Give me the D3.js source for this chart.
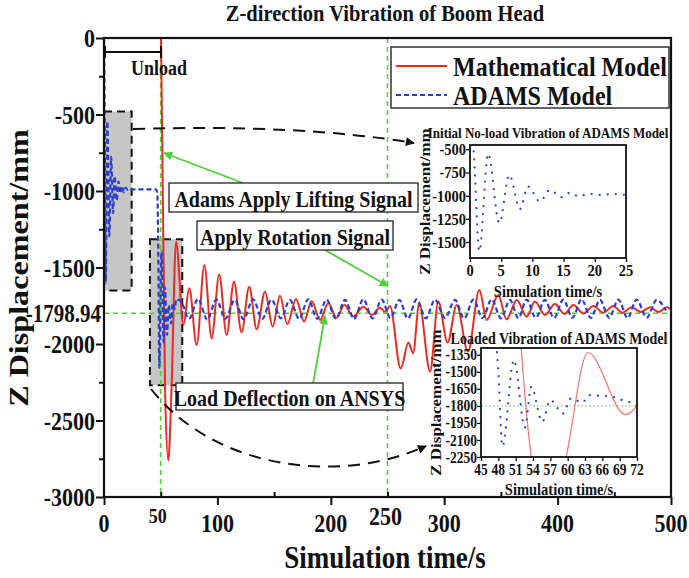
<!DOCTYPE html>
<html><head><meta charset="utf-8">
<script src="https://cdn.jsdelivr.net/npm/d3@7/dist/d3.min.js"></script>
<style>
body{margin:0;background:#fff}
text{font-family:"Liberation Serif","Times New Roman",serif;font-weight:bold;fill:#111}
</style></head>
<body><svg id="c" width="689" height="578"></svg>
<script>
// ---------------- data ----------------
const xTicks = [0, 100, 200, 300, 400, 500];
const xMarks = [50, 250];
const yTicks = [0, -500, -1000, -1500, -2000, -2500, -3000];
const refValue = -1798.94;

const adamsT = [0,0.6,1.5,2.9,4.7,6.3,8.0,9.3,11.2,12.8,14.7,16,17.5,19,21,23,24.5,30,40,45.5,47,48,48.7,50.7,52.6,53.7,55.6,57,59.2,60.6,62.6,63.6,65.8,67.5,68.8,70.4,71.8,
 75,83,91,99.1,107,115.3,123,131.5,139.5,147.7,156,163.9,172,180.1,188,196.3,204.5,212.5,220.5,228.7,236.8,244.9,252.6,260.4,268,275.7,283.8,291.9,300.7,309.5,317.6,325.7,333.8,341.9,350,358,365.4,372.7,380.8,388.8,396.9,405,413.1,421.2,429.3,437.4,445.5,453.6,461.7,469.7,478.6,487.4,495.5,500];
const adamsV = [0,-530,-1600,-545,-1296,-776,-1145,-902,-1063,-938,-1016,-968,-1008,-978,-992,-983,-990,-990,-990,-990,-1010,-1500,-2155,-1394,-1990,-1630,-1940,-1748,-1866,-1733,-1770,-1705,-1712,-1716,-1740,-1760,-1796,
 -1835,-1705,-1840,-1710,-1835,-1712,-1838,-1708,-1835,-1710,-1832,-1712,-1836,-1708,-1835,-1710,-1834,-1712,-1836,-1708,-1832,-1710,-1830,-1712,-1834,-1708,-1832,-1710,-1830,-1712,-1833,-1710,-1830,-1708,-1832,-1712,-1830,-1710,-1828,-1712,-1830,-1710,-1828,-1708,-1830,-1712,-1828,-1710,-1830,-1710,-1828,-1712,-1780];

const mathT = [50.3,53.8,56.7,59.6,63.5,70,75.2,81.7,88.5,94.9,101.6,108.1,114.6,121.3,128.1,134.6,142,148.7,155.2,161.6,169.3,176.4,183.1,190.5,197.8,205.1,211.9,219.8,228.7,236,243.4,248,252.2,261.6,268.5,272.5,278,287.5,294.8,303,311,321,331,337.5,347.7,355,364,372.7,380,388.8,397.7,406,413.9,422.7,431.5,440.3,449.1,457.2,465.3,473.4,481.5,488.9,496.2,500];
const mathV = [0,-2279,-2762,-2279,-1331,-1876,-1636,-2007,-1484,-1963,-1545,-1941,-1593,-1924,-1625,-1904,-1658,-1887,-1684,-1871,-1706,-1854,-1719,-1843,-1734,-1828,-1745,-1821,-1756,-1810,-1763,-1790,-1752,-2160,-1990,-2060,-1734,-2180,-1723,-1990,-1745,-2050,-1647,-1843,-1680,-1839,-1712,-1821,-1723,-1810,-1739,-1804,-1745,-1800,-1752,-1795,-1752,-1795,-1760,-1791,-1760,-1791,-1760,-1775];

const inset1XTicks = [0,5,10,15,20,25];
const inset1YTicks = [-500,-750,-1000,-1250,-1500];
const inset2XTicks = [45,48,51,54,57,60,63,66,69,72];
const inset2YTicks = [-1350,-1500,-1650,-1800,-1950,-2100,-2250];

const legendNames = ["Mathematical Model","ADAMS Model"];
const notes = ["Adams Apply Lifting Signal","Apply Rotation Signal","Load Deflection on ANSYS"];

// ---------------- drawing ----------------
const SY = 1.17;  // vertical stretch of glyphs in the reference
const RED = "#ec2a24", BLUE = "#2d3ecf", GREEN = "#4fcf3a";
const svg = d3.select("#c");
const defs = svg.append("defs");

function T(parent, x, y, s, size, anchor="middle", rot=0, fill="#111"){
  const g = parent.append("g").attr("transform", `translate(${x},${y}) scale(1,${SY})` + (rot ? ` rotate(${rot})` : ""));
  g.append("text").attr("text-anchor", anchor).attr("dy","0.35em")
    .style("font-size", size+"px").style("fill", fill).text(s);
  return g;
}
function marker(id, color, w=10, h=8){
  defs.append("marker").attr("id", id).attr("viewBox","0 0 10 10").attr("refX",9).attr("refY",5)
    .attr("markerWidth", w).attr("markerHeight", h).attr("markerUnits","userSpaceOnUse").attr("orient","auto")
    .append("path").attr("d","M0,0 L10,5 L0,10 Z").attr("fill", color);
}
marker("arrK", "#111", 16, 9);
marker("arrG", GREEN, 13, 9);

const x = d3.scaleLinear().domain([0,500]).range([104,671]);
const y = d3.scaleLinear().domain([-3000,0]).range([497,38]);

defs.append("clipPath").attr("id","mainClip").append("rect")
  .attr("x",x(0)).attr("y",y(0)).attr("width",x(500)-x(0)).attr("height",y(-3000)-y(0));

// title
T(svg, 385, 13, "Z-direction Vibration of Boom Head", 20.5);

// gray boxes
const boxes = [[0,24.4,-480,-1650],[40.5,69,-1315,-2270]];
const gBox = svg.append("g");
boxes.forEach(b=>{
  gBox.append("rect").attr("x",x(b[0])).attr("y",y(b[2])).attr("width",x(b[1])-x(b[0])).attr("height",y(b[3])-y(b[2]))
    .attr("fill","#c6c6c6").attr("stroke","#111").attr("stroke-width",2).attr("stroke-dasharray","8,5");
});

// green reference lines
const gRef = svg.append("g").attr("stroke",GREEN).attr("stroke-width",1.6).attr("stroke-dasharray","5,4");
xMarks.forEach(m=>gRef.append("line").attr("x1",x(m)).attr("x2",x(m)).attr("y1",y(0)).attr("y2",y(-3000)));
gRef.append("line").attr("x1",x(0)).attr("x2",x(500)).attr("y1",y(refValue)).attr("y2",y(refValue));

// curves
const adams = d3.zip(adamsT, adamsV), maths = d3.zip(mathT, mathV);
const line = d3.line().x(d=>x(d[0])).y(d=>y(d[1])).curve(d3.curveMonotoneX);
const gC = svg.append("g").attr("clip-path","url(#mainClip)");
gC.append("path").attr("d", line(maths)).attr("fill","none").attr("stroke",RED).attr("stroke-width",2);
gC.append("path").attr("d", line(adams)).attr("fill","none").attr("stroke",BLUE).attr("stroke-width",2.2).attr("stroke-dasharray","5,3");

// unload bracket
const gU = svg.append("g").attr("stroke","#111").attr("stroke-width",2);
gU.append("line").attr("x1",x(0)).attr("x2",x(50.3)).attr("y1",52).attr("y2",52);
gU.append("line").attr("x1",x(0)+1).attr("x2",x(0)+1).attr("y1",46).attr("y2",58);
gU.append("line").attr("x1",x(50.3)).attr("x2",x(50.3)).attr("y1",46).attr("y2",58);
T(svg, 159, 68, "Unload", 18);

// dashed black arrows
svg.append("path").attr("d","M133,129 Q300,124 414,143").attr("fill","none").attr("stroke","#111")
  .attr("stroke-width",2).attr("stroke-dasharray","12,8").attr("marker-end","url(#arrK)");
svg.append("path").attr("d","M151,389 C215,470 340,485 426,446").attr("fill","none").attr("stroke","#111")
  .attr("stroke-width",2).attr("stroke-dasharray","12,8").attr("marker-end","url(#arrK)");

// green arrows
const gA = svg.append("g").attr("stroke",GREEN).attr("stroke-width",1.8).attr("fill","none");
gA.append("line").attr("x1",243).attr("y1",183).attr("x2",164).attr("y2",153).attr("marker-end","url(#arrG)");
gA.append("line").attr("x1",325).attr("y1",250).attr("x2",388).attr("y2",286).attr("marker-end","url(#arrG)");
gA.append("line").attr("x1",313).attr("y1",384).attr("x2",325).attr("y2",316).attr("marker-end","url(#arrG)");

// annotation boxes
const noteBoxes = [[169,183,249,29],[197,221,196,29],[176,383,227,27]];
notes.forEach((n,i)=>{
  const b = noteBoxes[i];
  svg.append("rect").attr("x",b[0]).attr("y",b[1]).attr("width",b[2]).attr("height",b[3])
    .attr("fill","#fff").attr("stroke","#222").attr("stroke-width",1.3);
  T(svg, b[0]+b[2]/2, b[1]+b[3]/2+1, n, 20);
});

// legend
svg.append("rect").attr("x",391).attr("y",47).attr("width",278).attr("height",61)
  .attr("fill","#fff").attr("stroke","#333").attr("stroke-width",1.5);
svg.append("line").attr("x1",396).attr("x2",447).attr("y1",66).attr("y2",66).attr("stroke",RED).attr("stroke-width",2.2);
svg.append("line").attr("x1",396).attr("x2",447).attr("y1",95).attr("y2",95).attr("stroke",BLUE).attr("stroke-width",2.2).attr("stroke-dasharray","5,3");
T(svg, 453, 66, legendNames[0], 24, "start");
T(svg, 453, 95, legendNames[1], 24, "start");

// ---------------- insets ----------------
function inset(cfg){
  const ix = d3.scaleLinear().domain(cfg.xd).range(cfg.xr);
  const iy = d3.scaleLinear().domain(cfg.yd).range(cfg.yr);
  const g = svg.append("g");
  g.append("rect").attr("x",cfg.xr[0]).attr("y",cfg.yr[1]).attr("width",cfg.xr[1]-cfg.xr[0]).attr("height",cfg.yr[0]-cfg.yr[1]).attr("fill","#fff");
  const cid = cfg.id;
  defs.append("clipPath").attr("id",cid).append("rect").attr("x",cfg.xr[0]).attr("y",cfg.yr[1]).attr("width",cfg.xr[1]-cfg.xr[0]).attr("height",cfg.yr[0]-cfg.yr[1]);
  const gc = g.append("g").attr("clip-path",`url(#${cid})`);
  const l = d3.line().x(d=>ix(d[0])).y(d=>iy(d[1])).curve(d3.curveMonotoneX);
  if(cfg.ref){
    gc.append("line").attr("x1",cfg.xr[0]).attr("x2",cfg.xr[1]).attr("y1",iy(refValue)).attr("y2",iy(refValue))
      .attr("stroke","#9fe28a").attr("stroke-width",1.2).attr("stroke-dasharray","2,2");
  }
  if(cfg.red){
    gc.append("path").attr("d",l(maths)).attr("fill","none").attr("stroke","#f27c7c").attr("stroke-width",1.3);
  }
  gc.append("path").attr("d",l(adams)).attr("fill","none").attr("stroke","#3546c8").attr("stroke-width",2.2)
    .attr("stroke-linecap","round").attr("stroke-dasharray","0.1,8");
  g.append("rect").attr("x",cfg.xr[0]).attr("y",cfg.yr[1]).attr("width",cfg.xr[1]-cfg.xr[0]).attr("height",cfg.yr[0]-cfg.yr[1])
    .attr("fill","none").attr("stroke","#111").attr("stroke-width",1.8);
  const ax = g.append("g").attr("transform",`translate(0,${cfg.yr[0]})`).call(d3.axisBottom(ix).tickValues(cfg.xt).tickSize(4).tickFormat(""));
  const ay = g.append("g").attr("transform",`translate(${cfg.xr[0]},0)`).call(d3.axisLeft(iy).tickValues(cfg.yt).tickSize(4).tickFormat(""));
  [ax,ay].forEach(a=>{a.select(".domain").remove(); a.selectAll("line").attr("stroke","#111").attr("stroke-width",1.3);});
  cfg.xt.forEach(v=>T(g, ix(v), cfg.yr[0]+12, String(v), cfg.tf));
  cfg.yt.forEach(v=>T(g, cfg.xr[0]-4, iy(v), String(v), cfg.tf, "end"));
  T(g, (cfg.xr[0]+cfg.xr[1])/2, cfg.titleY, cfg.title, cfg.titleF);
  T(g, (cfg.xr[0]+cfg.xr[1])/2, cfg.xlabY, "Simulation time/s", 14.5);
  T(g, cfg.ylabX, (cfg.yr[0]+cfg.yr[1])/2, "Z Displacement/mm", 14.5, "middle", -90);
}
inset({id:"in1", xd:[0,25], xr:[470,626], yd:[-1672,-454], yr:[258,145],
  xt:inset1XTicks, yt:inset1YTicks, tf:14.5, title:"Initial No-load Vibration of ADAMS Model", titleF:13, titleY:133,
  xlabY:291, ylabX:425, red:false, ref:false});
inset({id:"in2", xd:[45,72], xr:[481,637], yd:[-2250,-1290], yr:[457,348],
  xt:inset2XTicks, yt:inset2YTicks, tf:13.5, title:"Loaded Vibration of ADAMS Model", titleF:14, titleY:338,
  xlabY:489, ylabX:436, red:true, ref:true});

// ---------------- main axes ----------------
svg.append("rect").attr("x",x(0)).attr("y",y(0)).attr("width",x(500)-x(0)).attr("height",y(-3000)-y(0))
  .attr("fill","none").attr("stroke","#111").attr("stroke-width",2.2);
const axB = svg.append("g").attr("transform",`translate(0,${y(-3000)})`).call(d3.axisBottom(x).tickValues(xTicks).tickSize(8).tickFormat(""));
const axBm = svg.append("g").attr("transform",`translate(0,${y(-3000)})`).call(d3.axisBottom(x).tickValues(d3.range(50,500,100)).tickSize(-5).tickFormat(""));
const axL = svg.append("g").attr("transform",`translate(${x(0)},0)`).call(d3.axisLeft(y).tickValues(yTicks).tickSize(8).tickFormat(""));
const axLm = svg.append("g").attr("transform",`translate(${x(0)},0)`).call(d3.axisLeft(y).tickValues(d3.range(-250,-3000,-500)).tickSize(5).tickFormat(""));
[axB,axBm,axL,axLm].forEach(a=>{a.select(".domain").remove(); a.selectAll("line").attr("stroke","#111").attr("stroke-width",2);});

xTicks.forEach(v=>T(svg, x(v), 523, String(v), 22));
xMarks.forEach(v=>T(svg, x(v)-(v===50?3:2), 516, String(v), v===50?18:22));
yTicks.forEach(v=>T(svg, 95, y(v), String(v), 22, "end"));
T(svg, 101, y(refValue), String(refValue), 21, "end");

T(svg, 385, 557, "Simulation time/s", 27);
T(svg, 18, 268, "Z Displacement/mm", 27.5, "middle", -90);
</script></body></html>
